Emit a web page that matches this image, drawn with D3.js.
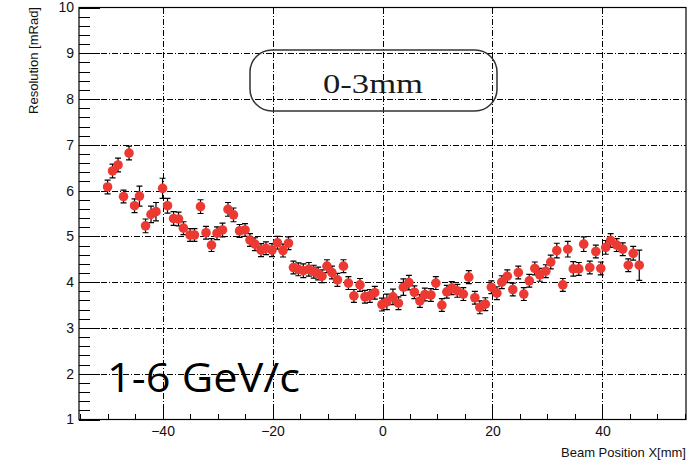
<!DOCTYPE html>
<html lang="en">
<head>
<meta charset="UTF-8">
<title>Resolution vs Beam Position</title>
<script src="https://d3js.org/d3.v7.min.js"></script>
<style>
    body { margin: 0; background: #fff; }
    .axis text { font-family: "Liberation Sans", Arial, sans-serif; font-size: 14px; fill: #111; }
    .axis path, .axis line { stroke: #000; shape-rendering: crispEdges; }
    .grid line { stroke: #000; stroke-width: 1; stroke-dasharray: 6,2,1,2; shape-rendering: crispEdges; }
    .title { font-family: "Liberation Sans", Arial, sans-serif; font-size: 13px; fill: #111; }
    .err { stroke: #000; stroke-width: 1.2; }
    .pt { fill: #ec3a33; }
</style>
</head>
<body>
<svg width="693" height="461"></svg>
<script>
// beam position [mm]
const posX = [-50.0, -49.1, -48.1, -47.1, -46.1, -45.1, -44.2, -43.1, -42.1, -41.2,
    -40.0, -39.1, -38.0, -37.1, -36.2, -35.0, -34.2, -33.1, -32.1, -31.1,
    -30.1, -29.1, -28.1, -27.1, -26.0, -25.0, -24.1, -23.2, -22.1, -21.2,
    -20.1, -19.1, -18.1, -17.1, -16.2, -15.3, -14.4, -13.4, -12.5, -11.7,
    -11.0, -10.1, -9.2, -8.2, -7.1, -6.2, -5.2, -4.1, -3.2, -2.3,
    -1.4, -0.1, 0.8, 1.9, 2.9, 3.8, 4.8, 5.8, 6.8, 7.7,
    8.8, 9.7, 10.8, 11.7, 12.6, 13.6, 14.7, 15.7, 16.8, 17.7,
    18.7, 19.8, 20.8, 21.7, 22.7, 23.7, 24.7, 25.7, 26.7, 27.7,
    28.6, 29.7, 30.6, 31.7, 32.8, 33.7, 34.7, 35.7, 36.6, 37.7,
    38.8, 39.7, 40.6, 41.5, 42.6, 43.7, 44.7, 45.6, 46.7];
// resolution [mRad]
const resolution = [6.08, 6.43, 6.56, 5.87, 6.82, 5.67, 5.88, 5.23, 5.48, 5.54,
    6.05, 5.67, 5.39, 5.38, 5.18, 5.03, 5.03, 5.65, 5.08, 4.81,
    5.07, 5.14, 5.59, 5.47, 5.12, 5.14, 4.92, 4.83, 4.70, 4.74,
    4.70, 4.86, 4.69, 4.85, 4.32, 4.28, 4.25, 4.28, 4.23, 4.19,
    4.13, 4.35, 4.21, 4.05, 4.35, 3.98, 3.70, 3.94, 3.68, 3.70,
    3.77, 3.51, 3.57, 3.68, 3.54, 3.89, 3.99, 3.78, 3.59, 3.73,
    3.72, 3.98, 3.50, 3.79, 3.87, 3.81, 3.74, 4.11, 3.66, 3.45,
    3.52, 3.89, 3.76, 4.00, 4.13, 3.84, 4.21, 3.74, 4.03, 4.30,
    4.16, 4.24, 4.44, 4.69, 3.94, 4.72, 4.29, 4.29, 4.83, 4.32,
    4.67, 4.30, 4.76, 4.91, 4.81, 4.72, 4.37, 4.63, 4.37];
// error on resolution [mRad]
const resErr = [0.15, 0.15, 0.15, 0.14, 0.15, 0.15, 0.22, 0.15, 0.18, 0.20,
    0.22, 0.16, 0.15, 0.15, 0.14, 0.14, 0.14, 0.15, 0.14, 0.14,
    0.14, 0.15, 0.15, 0.15, 0.14, 0.14, 0.14, 0.14, 0.14, 0.14,
    0.14, 0.14, 0.14, 0.14, 0.14, 0.14, 0.15, 0.15, 0.14, 0.14,
    0.14, 0.14, 0.14, 0.14, 0.14, 0.14, 0.14, 0.14, 0.14, 0.14,
    0.14, 0.14, 0.17, 0.17, 0.14, 0.18, 0.16, 0.14, 0.14, 0.14,
    0.14, 0.14, 0.14, 0.14, 0.14, 0.14, 0.14, 0.14, 0.14, 0.14,
    0.14, 0.14, 0.14, 0.14, 0.14, 0.14, 0.14, 0.14, 0.14, 0.14,
    0.14, 0.14, 0.15, 0.16, 0.14, 0.17, 0.16, 0.14, 0.16, 0.14,
    0.14, 0.14, 0.15, 0.15, 0.14, 0.14, 0.14, 0.15, 0.33];

const xMajor = [-40, -20, 0, 20, 40];
const xMinor = [-55, -50, -45, -35, -30, -25, -15, -10, -5, 5, 10, 15, 25, 30, 35, 45, 50, 55];
const yMajor = [1, 2, 3, 4, 5, 6, 7, 8, 9, 10];

const data = posX.map((x, i) => ({ x: x, y: resolution[i], e: resErr[i] }));

const plotLeft = 79, plotRight = 686, plotTop = 7.5, plotBottom = 419.5;

const svg = d3.select("svg");

const x = d3.scaleLinear().domain([-55.2, 55.2]).range([plotLeft, plotRight]);
const y = d3.scaleLinear().domain([1, 10]).range([plotBottom, plotTop]);

// grid
const grid = svg.append("g").attr("class", "grid");
grid.selectAll(".gx").data(xMajor).enter().append("line")
    .attr("x1", d => Math.round(x(d)) + 0.5).attr("x2", d => Math.round(x(d)) + 0.5)
    .attr("y1", plotTop).attr("y2", plotBottom);
grid.selectAll(".gy").data(yMajor.slice(1, -1)).enter().append("line")
    .attr("x1", plotLeft).attr("x2", plotRight)
    .attr("y1", d => Math.round(y(d)) + 0.5).attr("y2", d => Math.round(y(d)) + 0.5);

// frame
svg.append("rect")
    .attr("x", plotLeft).attr("y", plotTop)
    .attr("width", plotRight - plotLeft).attr("height", plotBottom - plotTop)
    .attr("fill", "none").attr("stroke", "#000").attr("stroke-width", 1.2);

// x axis
svg.append("g").attr("class", "axis")
    .attr("transform", `translate(0,${plotBottom})`)
    .call(d3.axisBottom(x).tickValues(xMajor).tickSize(-12).tickPadding(7)
        .tickFormat(d => d < 0 ? "\u2212" + Math.abs(d) : d))
    .call(g => g.select(".domain").remove());
svg.append("g").attr("class", "axis")
    .attr("transform", `translate(0,${plotBottom})`)
    .call(d3.axisBottom(x).tickValues(xMinor).tickSize(-6).tickFormat(""))
    .call(g => g.select(".domain").remove());

// y axis
const yMinor = d3.range(1, 10, 0.2).map(v => +v.toFixed(1)).filter(v => !Number.isInteger(v));
svg.append("g").attr("class", "axis")
    .attr("transform", `translate(${plotLeft},0)`)
    .call(d3.axisLeft(y).tickValues(yMajor).tickSize(-21).tickPadding(5))
    .call(g => g.select(".domain").remove());
svg.append("g").attr("class", "axis")
    .attr("transform", `translate(${plotLeft},0)`)
    .call(d3.axisLeft(y).tickValues(yMinor).tickSize(-11).tickFormat(""))
    .call(g => g.select(".domain").remove());

// axis titles
svg.append("text").attr("class", "title")
    .attr("transform", "translate(38,7) rotate(-90)")
    .attr("text-anchor", "end")
    .text("Resolution [mRad]");
svg.append("text").attr("class", "title")
    .attr("x", plotRight).attr("y", 457)
    .attr("text-anchor", "end")
    .text("Beam Position X[mm]");

// error bars
const eb = svg.append("g");
eb.selectAll(".err").data(data).enter().append("path")
    .attr("class", "err")
    .attr("fill", "none")
    .attr("d", d => {
        const cx = x(d.x), y1 = y(d.y + d.e), y2 = y(d.y - d.e);
        return `M${cx},${y1}V${y2}M${cx - 3},${y1}H${cx + 3}M${cx - 3},${y2}H${cx + 3}`;
    });

// points
svg.append("g").selectAll(".pt").data(data).enter().append("circle")
    .attr("class", "pt")
    .attr("cx", d => x(d.x)).attr("cy", d => y(d.y)).attr("r", 4.8);

// annotations
svg.append("rect")
    .attr("x", 250).attr("y", 50).attr("width", 247).attr("height", 61)
    .attr("rx", 22).attr("ry", 22)
    .attr("fill", "none").attr("stroke", "#333").attr("stroke-width", 1.5);
svg.append("text")
    .attr("x", 373).attr("y", 93)
    .attr("text-anchor", "middle")
    .attr("textLength", 100).attr("lengthAdjust", "spacingAndGlyphs")
    .style("font-family", "'Liberation Serif', 'DejaVu Serif', serif")
    .style("font-size", "28px")
    .style("font-variant-numeric", "oldstyle-nums")
    .style("fill", "#1a1a1a")
    .text("0-3mm");

svg.append("text")
    .attr("x", 107).attr("y", 392)
    .attr("textLength", 193).attr("lengthAdjust", "spacingAndGlyphs")
    .style("font-family", "'Open Sans', 'Noto Sans', sans-serif")
    .style("font-size", "40px")
    .style("fill", "#000")
    .text("1-6 GeV/c");
</script>
</body>
</html>
